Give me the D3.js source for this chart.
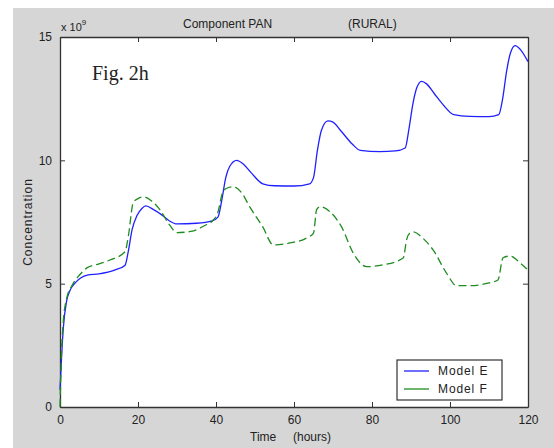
<!DOCTYPE html>
<html>
<head>
<meta charset="utf-8">
<script src="https://cdn.jsdelivr.net/npm/d3@7"></script>
<style>
  body { margin: 0; background: #fff; }
  svg text { font-family: "Liberation Sans", Arial, sans-serif; fill: #222; }
</style>
</head>
<body>
<svg class="chart" width="554" height="448"></svg>
<script>
// time in hours, concentration in units of 1e9
const timeE = [0, 0.4, 0.85, 1.7, 2.5, 4, 7, 10, 14, 16.7, 17.5, 18.5, 19.7, 21, 22, 24, 26, 28, 30, 35, 39, 40.5, 41.5, 42.5, 43.5, 45.3, 47, 49, 52, 55, 60, 64, 65, 66, 67, 68.7, 70, 72, 75, 77, 82, 86, 88.5, 89.5, 90.5, 91.5, 92.7, 94, 96, 98, 101, 105, 110, 112.5, 113.5, 114.5, 115.5, 116.7, 118, 120];
const modelE = [0.7, 2.0, 3.2, 4.3, 4.7, 5.05, 5.35, 5.4, 5.55, 5.75, 6.3, 7.2, 7.75, 8.05, 8.15, 8.0, 7.8, 7.55, 7.42, 7.45, 7.55, 7.7, 8.4, 9.3, 9.75, 10.0, 9.85, 9.5, 9.05, 8.97, 8.96, 9.05, 9.3, 10.4, 11.2, 11.6, 11.55, 11.2, 10.65, 10.4, 10.35, 10.38, 10.5, 11.3, 12.3, 12.95, 13.2, 13.1, 12.7, 12.3, 11.85, 11.78, 11.77, 11.85, 12.5, 13.6, 14.35, 14.65, 14.5, 14.0];

const timeF = [0, 0.3, 0.8, 1.7, 3, 5, 7, 10, 12.8, 16.7, 17.5, 18.8, 20, 21.4, 23.5, 25.6, 28, 30, 34, 37, 39.3, 40.5, 41.5, 42.5, 44.4, 46.5, 48.7, 52, 54.7, 59, 63.2, 65, 65.8, 66.7, 69.2, 72.2, 75.2, 78.6, 82.8, 88, 88.9, 89.7, 90.5, 93, 95.7, 99.1, 101.7, 105, 110, 112.3, 113.6, 115.4, 118, 120];
const modelF = [0, 1.8, 3.4, 4.4, 4.9, 5.35, 5.65, 5.8, 5.96, 6.3, 6.9, 8.3, 8.45, 8.52, 8.35, 8.0, 7.4, 7.07, 7.13, 7.35, 7.58, 7.9, 8.6, 8.85, 8.93, 8.7, 8.1, 7.3, 6.57, 6.65, 6.85, 7.05, 8.0, 8.12, 7.92, 7.3, 6.24, 5.69, 5.76, 6.04, 6.8, 7.05, 7.1, 6.85, 6.36, 5.43, 4.92, 4.92, 5.03, 5.15, 6.05, 6.12, 5.84, 5.55];

const xTicks = [0, 20, 40, 60, 80, 100, 120];
const yTicks = [0, 5, 10, 15];
const seriesNames = ['Model E', 'Model F'];

const svg = d3.select('.chart');
const MARGIN = {left: 60, right: 26, top: 37, bottom: 41};
const W = 554, H = 448;

// gray figure background
svg.append('rect')
    .attr('x', 13).attr('y', 8)
    .attr('width', W - 13).attr('height', H - 8)
    .attr('fill', '#d6d6d6');

let xScale = d3.scaleLinear()
    .domain([0, 120])
    .range([MARGIN.left, W - MARGIN.right]);
let yScale = d3.scaleLinear()
    .domain([0, 15])
    .range([H - MARGIN.bottom, MARGIN.top]);

svg.append('rect')
    .attr('x', xScale(0)).attr('y', yScale(15))
    .attr('width', xScale(120) - xScale(0))
    .attr('height', yScale(0) - yScale(15))
    .attr('fill', '#fff');

// axes with inward ticks, mirrored on top and right
const axisColor = '#333';
function styleAxis(g) {
    g.select('.domain').attr('stroke', axisColor).attr('stroke-width', 1.3);
    g.selectAll('.tick line').attr('stroke', axisColor);
    g.selectAll('.tick text').attr('font-size', 12).attr('fill', '#222')
        .attr('font-family', '"Liberation Sans", Arial, sans-serif');
}
svg.append('g')
    .attr('transform', `translate(0,${yScale(0)})`)
    .call(d3.axisBottom(xScale).tickValues(xTicks).tickSize(-5).tickSizeOuter(0).tickPadding(8))
    .call(styleAxis);
svg.append('g')
    .attr('transform', `translate(${xScale(0)},0)`)
    .call(d3.axisLeft(yScale).tickValues(yTicks).tickSize(-5).tickSizeOuter(0).tickPadding(8))
    .call(styleAxis);
svg.append('g')
    .attr('transform', `translate(0,${yScale(15)})`)
    .call(d3.axisTop(xScale).tickValues(xTicks).tickSize(-5).tickSizeOuter(0).tickFormat(''))
    .call(styleAxis);
svg.append('g')
    .attr('transform', `translate(${xScale(120)},0)`)
    .call(d3.axisRight(yScale).tickValues(yTicks).tickSize(-5).tickSizeOuter(0).tickFormat(''))
    .call(styleAxis);

// lines
let line = d3.line()
    .x(d => xScale(d[0]))
    .y(d => yScale(d[1]))
    .curve(d3.curveMonotoneX);

svg.append('path')
    .datum(timeE.map((t, i) => [t, modelE[i]]))
    .attr('fill', 'none')
    .attr('stroke', '#2020ff')
    .attr('stroke-width', 1.3)
    .attr('d', line);

svg.append('path')
    .datum(timeF.map((t, i) => [t, modelF[i]]))
    .attr('fill', 'none')
    .attr('stroke', '#1e8c1e')
    .attr('stroke-width', 1.3)
    .attr('stroke-dasharray', '8,4')
    .attr('d', line);

// title, in two parts like the original
svg.append('text')
    .attr('x', 183).attr('y', 28).attr('font-size', 12)
    .text('Component PAN');
svg.append('text')
    .attr('x', 348).attr('y', 28).attr('font-size', 12)
    .text('(RURAL)');

let expo = svg.append('text').attr('x', 61).attr('y', 31).attr('font-size', 11);
expo.append('tspan').text('x 10');
expo.append('tspan').attr('font-size', 8).attr('dy', -6).text('9');

svg.append('text')
    .attr('x', 92).attr('y', 80)
    .attr('font-size', 20).attr('fill', '#000')
    .style('font-family', '"Liberation Serif", "DejaVu Serif", serif')
    .text('Fig. 2h');

svg.append('text')
    .attr('x', 250).attr('y', 441).attr('font-size', 12)
    .text('Time');
svg.append('text')
    .attr('x', 293).attr('y', 441).attr('font-size', 12)
    .text('(hours)');

svg.append('text')
    .attr('transform', `translate(32,${(yScale(0) + yScale(15)) / 2}) rotate(-90)`)
    .attr('text-anchor', 'middle').attr('font-size', 12)
    .attr('letter-spacing', 1)
    .text('Concentration');

// legend
let legend = svg.append('g').attr('transform', 'translate(397,360)');
legend.append('rect')
    .attr('width', 105).attr('height', 40)
    .attr('fill', '#fff').attr('stroke', axisColor).attr('stroke-width', 1.2);
const legendColors = ['#2020ff', '#1e8c1e'];
seriesNames.forEach((name, i) => {
    let y = 11 + i * 18;
    legend.append('line')
        .attr('x1', 7).attr('x2', 32).attr('y1', y).attr('y2', y)
        .attr('stroke', legendColors[i]).attr('stroke-width', 1.3);
    legend.append('text')
        .attr('x', 41).attr('y', y + 4)
        .attr('font-size', 12).attr('letter-spacing', 0.9)
        .text(name);
});
</script>
</body>
</html>
